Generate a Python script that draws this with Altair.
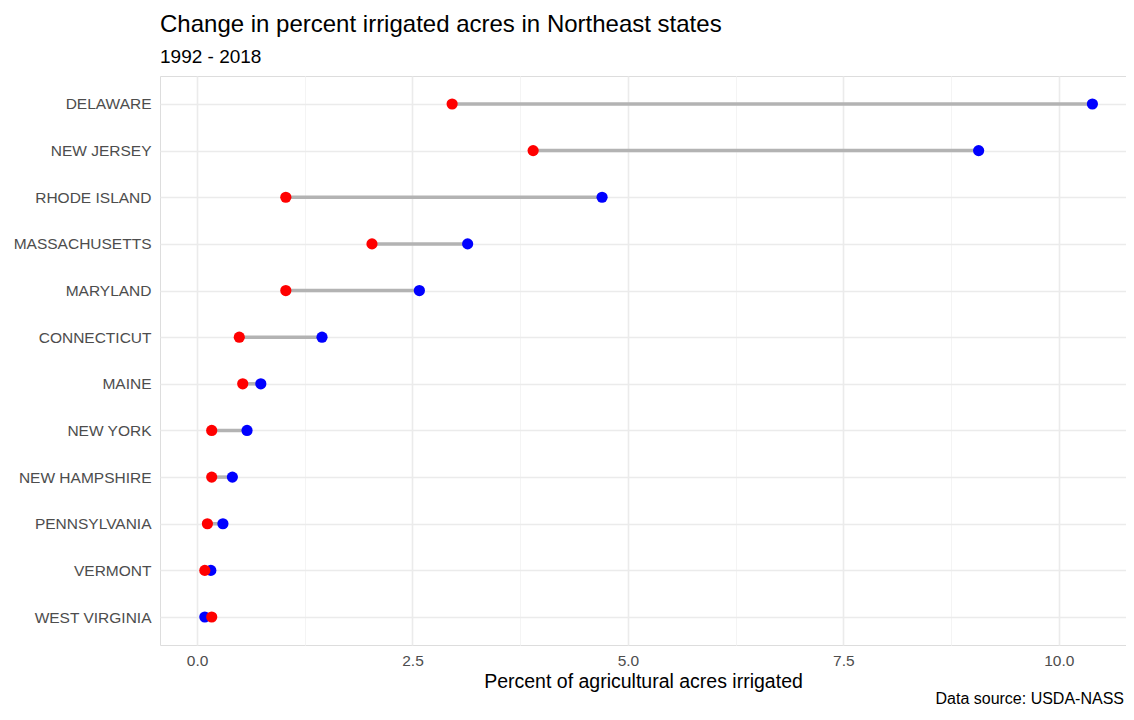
import altair as alt
import pandas as pd

states = ["DELAWARE", "NEW JERSEY", "RHODE ISLAND", "MASSACHUSETTS", "MARYLAND",
          "CONNECTICUT", "MAINE", "NEW YORK", "NEW HAMPSHIRE", "PENNSYLVANIA",
          "VERMONT", "WEST VIRGINIA"]
pct_1992 = [2.96, 3.90, 1.03, 2.03, 1.03, 0.49, 0.53, 0.17, 0.17, 0.12, 0.09, 0.17]
pct_2018 = [10.39, 9.07, 4.70, 3.14, 2.58, 1.45, 0.74, 0.58, 0.41, 0.30, 0.16, 0.09]

df = pd.DataFrame({"state": states, "y1992": pct_1992, "y2018": pct_2018})

W, H = 966, 569
FONT = "Liberation Sans"

xscale = alt.Scale(domain=[-0.43, 10.78], nice=False, zero=False)
yscale = alt.Scale(type="point", padding=0.6, domain=states)

grid_vals = [0, 1.25, 2.5, 3.75, 5, 6.25, 7.5, 8.75, 10]

xaxis = alt.Axis(
    title="Percent of agricultural acres irrigated",
    values=grid_vals,
    labelExpr="datum.value % 2.5 == 0 ? format(datum.value, '.1f') : ''",
    grid=True,
    gridColor=alt.condition("datum.value % 2.5 == 0", alt.value("#ebebeb"), alt.value("#f4f4f4")),
    gridWidth=alt.condition("datum.value % 2.5 == 0", alt.value(1.6), alt.value(1.0)),
    ticks=False, domain=False,
    labelFont=FONT, labelFontSize=15.5, labelColor="#4d4d4d", labelPadding=8,
    titleFont=FONT, titleFontSize=19.5, titleFontWeight="normal", titleColor="#000000",
    titlePadding=4,
)
yaxis = alt.Axis(
    title=None, grid=True, gridColor="#ebebeb", gridWidth=1.6,
    ticks=False, domain=False,
    labelFont=FONT, labelFontSize=15.5, labelColor="#4d4d4d", labelPadding=9,
)

base = alt.Chart(df)

seg = base.mark_rule(color="#b3b3b3", strokeWidth=3.5).encode(
    y=alt.Y("state:N", scale=yscale, axis=yaxis, sort=states),
    x=alt.X("y1992:Q", scale=xscale, axis=xaxis),
    x2="y2018:Q",
)
p2018 = base.mark_circle(color="#0000ff", size=125, opacity=1).encode(
    y=alt.Y("state:N", scale=yscale, sort=states),
    x=alt.X("y2018:Q", scale=xscale),
)
p1992 = base.mark_circle(color="#ff0000", size=125, opacity=1).encode(
    y=alt.Y("state:N", scale=yscale, sort=states),
    x=alt.X("y1992:Q", scale=xscale),
)

caption = alt.Chart(pd.DataFrame({"t": ["Data source: USDA-NASS"]})).mark_text(
    align="right", baseline="middle", font=FONT, fontSize=16, color="#000000"
).encode(x=alt.value(W - 2), y=alt.value(H + 54), text="t:N")

chart = alt.layer(seg, p2018, p1992, caption).properties(
    width=W, height=H,
    title=alt.TitleParams(
        text="Change in percent irrigated acres in Northeast states",
        subtitle="1992 - 2018",
        anchor="start", frame="group",
        font=FONT, fontSize=24, fontWeight="normal", color="#000000",
        subtitleFont=FONT, subtitleFontSize=19, subtitleColor="#000000",
        subtitlePadding=11, offset=9,
    ),
    padding={"left": 152, "top": 68, "right": 0, "bottom": 66},
    autosize=alt.AutoSizeParams(type="none"),
).configure_view(stroke="transparent", strokeOpacity=0, strokeWidth=0).configure(background="white")

chart.save("out.html", embed_options={"renderer": "svg", "actions": False})
